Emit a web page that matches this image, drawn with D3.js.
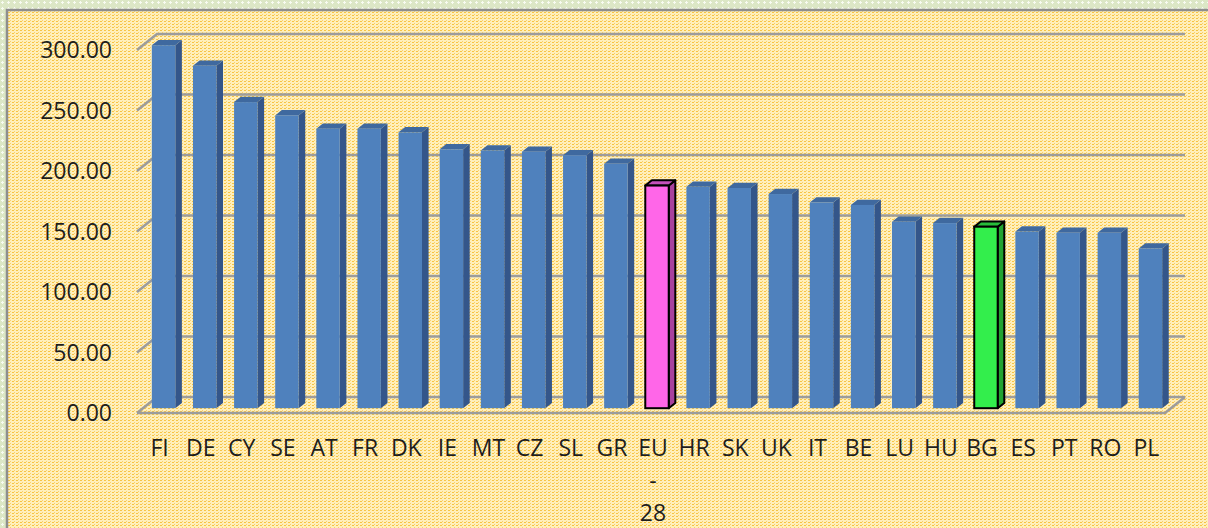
<!DOCTYPE html>
<html>
<head>
<meta charset="utf-8">
<script src="https://cdn.jsdelivr.net/npm/d3@7"></script>
<style>
  body { margin: 0; padding: 0; overflow: hidden; }
  svg { display: block; }
</style>
</head>
<body>
<div id="grafica"></div>
<script>
// datos
var paises = ["FI", "DE", "CY", "SE", "AT", "FR", "DK", "IE", "MT", "CZ", "SL", "GR", "EU-28",
              "HR", "SK", "UK", "IT", "BE", "LU", "HU", "BG", "ES", "PT", "RO", "PL"];
var valores = [300, 283, 253, 242, 231, 231, 228, 214, 213, 212, 209, 202, 184,
               183, 182, 177, 170, 168, 154, 153, 150, 146, 145, 145, 132];
var marcas = [0, 50, 100, 150, 200, 250, 300];

var ancho = 1208, alto = 528;
var dx = 20, dy = -16;          // profundidad del grafico 3D
var f0 = 0.3, f1 = 0.63;         // posicion de las barras en la profundidad

var svg = d3.select("#grafica").append("svg")
  .attr("width", ancho)
  .attr("height", alto);

var defs = svg.append("defs");
var pv = defs.append("pattern").attr("id", "verde")
  .attr("width", 6).attr("height", 6).attr("patternUnits", "userSpaceOnUse");
pv.append("rect").attr("width", 6).attr("height", 6).attr("fill", "#dce7c6");
pv.append("rect").attr("x", 2).attr("y", 1).attr("width", 1).attr("height", 3).attr("fill", "#f8fbf2");
pv.append("rect").attr("x", 1).attr("y", 2).attr("width", 3).attr("height", 1).attr("fill", "#f8fbf2");

var pa = defs.append("pattern").attr("id", "amarillo")
  .attr("width", 4).attr("height", 3).attr("patternUnits", "userSpaceOnUse");
pa.append("rect").attr("width", 4).attr("height", 3).attr("fill", "#ffefbb");
pa.append("rect").attr("x", 0).attr("y", 0).attr("width", 2).attr("height", 1).attr("fill", "#f6c444");
pa.append("rect").attr("x", 2).attr("y", 2).attr("width", 1).attr("height", 1).attr("fill", "#f9d06a");

svg.append("rect").attr("width", ancho).attr("height", alto).attr("fill", "url(#verde)");
svg.append("rect")
  .attr("x", 7).attr("y", 10)
  .attr("width", ancho + 20).attr("height", alto + 20)
  .attr("fill", "url(#amarillo)")
  .attr("stroke", "#8e8e8e").attr("stroke-width", 2.5);

var x = d3.scaleBand().domain(paises).range([137, 1165])
  .paddingInner(0.43).paddingOuter(0.215);
var xl = d3.scaleBand().domain(paises).range([137, 1165]);
var y = d3.scaleLinear().domain([0, 300]).range([413, 50]);

var gris = "#9c9c9c";
var rejilla = svg.append("g");
marcas.forEach(function (m) {
  rejilla.append("path")
    .attr("d", "M137," + y(m) + "L" + (137 + dx) + "," + (y(m) + dy) + "L" + (1165 + dx) + "," + (y(m) + dy))
    .attr("fill", "none").attr("stroke", gris).attr("stroke-width", 2.5);
});
// piso
rejilla.append("path")
  .attr("d", "M137," + y(0) + "L1165," + y(0) + "L" + (1165 + dx) + "," + (y(0) + dy))
  .attr("fill", "none").attr("stroke", gris).attr("stroke-width", 2.5);

// etiquetas eje y
svg.append("g").selectAll("text").data(marcas).enter().append("text")
  .attr("x", 112)
  .attr("y", function (d) { return y(d); })
  .attr("dy", "0.36em")
  .attr("text-anchor", "end")
  .attr("font-family", "Open Sans")
  .attr("font-size", 23)
  .attr("fill", "#1e1e1e")
  .text(d3.format(".2f"));

function colores(p) {
  if (p === "EU-28") return { frente: "#ff66e8", lado: "#a8429e", arriba: "#c450bb", borde: "#000" };
  if (p === "BG") return { frente: "#33ee4c", lado: "#22a331", arriba: "#28bd3b", borde: "#000" };
  return { frente: "#4f81bd", lado: "#34568a", arriba: "#3f699f", borde: "none" };
}

var barras = svg.append("g").selectAll("g").data(paises).enter().append("g")
  .each(function (p, i) {
    var g = d3.select(this);
    var c = colores(p);
    var x0 = x(p) + dx * f0, x1 = x0 + x.bandwidth();
    var yb = y(0) + dy * f0, yt = y(valores[i]) + dy * f0;
    var ex = dx * (f1 - f0), ey = dy * (f1 - f0);
    var sw = c.borde === "none" ? 0 : 2;
    g.append("path")
      .attr("d", "M" + x1 + "," + yt + "L" + (x1 + ex) + "," + (yt + ey) + "L" + (x1 + ex) + "," + (yb + ey) + "L" + x1 + "," + yb + "Z")
      .attr("fill", c.lado).attr("stroke", c.borde).attr("stroke-width", sw).attr("stroke-linejoin", "round");
    g.append("path")
      .attr("d", "M" + x0 + "," + yt + "L" + (x0 + ex) + "," + (yt + ey) + "L" + (x1 + ex) + "," + (yt + ey) + "L" + x1 + "," + yt + "Z")
      .attr("fill", c.arriba).attr("stroke", c.borde).attr("stroke-width", sw).attr("stroke-linejoin", "round");
    g.append("rect")
      .attr("x", x0).attr("y", yt)
      .attr("width", x.bandwidth()).attr("height", yb - yt)
      .attr("fill", c.frente).attr("stroke", c.borde).attr("stroke-width", sw);
  });

// etiquetas eje x
var etq = svg.append("g").selectAll("text").data(paises).enter().append("text")
  .attr("x", function (d) { return xl(d) + xl.bandwidth() / 2 + 2; })
  .attr("y", 456)
  .attr("text-anchor", "middle")
  .attr("font-family", "Open Sans")
  .attr("font-size", 23)
  .attr("fill", "#1e1e1e");
etq.each(function (d) {
  var t = d3.select(this);
  var partes = d === "EU-28" ? ["EU", "-", "28"] : [d];
  partes.forEach(function (s, k) {
    t.append("tspan")
      .attr("x", xl(d) + xl.bandwidth() / 2 + 2)
      .attr("dy", k === 0 ? 0 : 32.5)
      .text(s);
  });
});
</script>
</body>
</html>
